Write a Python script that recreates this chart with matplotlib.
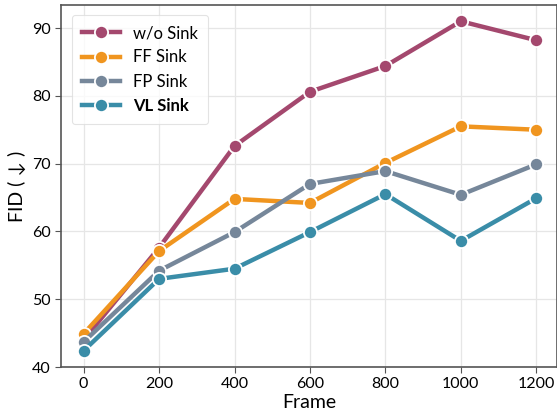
import matplotlib
matplotlib.use("Agg")
import matplotlib.pyplot as plt

plt.rcParams['font.family'] = ['Lato', 'DejaVu Sans']

frames = [0, 200, 400, 600, 800, 1000, 1200]
wo_sink = [44.0, 57.6, 72.6, 80.6, 84.4, 91.0, 88.2]
ff_sink = [44.9, 57.1, 64.8, 64.2, 70.1, 75.5, 75.0]
fp_sink = [43.7, 54.2, 59.9, 67.0, 68.9, 65.4, 69.9]
vl_sink = [42.4, 53.0, 54.5, 59.9, 65.5, 58.6, 64.9]
labels = ["w/o Sink", "FF Sink", "FP Sink", "VL Sink"]
colors = ["#A4486E", "#F0951F", "#76879A", "#3A8DA8"]

fig = plt.figure(figsize=(5.57, 4.11), dpi=100)
ax = fig.add_axes([61/557, 44/411, (557-61)/557, (367-5)/411])

for ys, lab, c in zip([wo_sink, ff_sink, fp_sink, vl_sink], labels, colors):
    ax.plot(frames, ys, color=c, lw=3.2, marker='o', ms=9.5,
            markeredgecolor='white', markeredgewidth=1.3, label=lab)

ax.set_xlim(-60, 1255)
ax.set_ylim(40, 93.4)
ax.set_xticks(frames)
ax.set_yticks([40, 50, 60, 70, 80, 90])
ax.grid(True, color='#e6e6e6', lw=0.9)
ax.set_axisbelow(True)
for s in ax.spines.values():
    s.set_color('#555555')
    s.set_linewidth(1.2)
ax.tick_params(labelsize=11.5, length=4, color='#555555')
ax.set_xlabel("Frame", fontsize=14, labelpad=2)
ax.set_ylabel("FID ( ↓ )", fontsize=14)

leg = ax.legend(loc='upper left', fontsize=12, frameon=True,
                handlelength=2.3, borderpad=0.6, labelspacing=0.5,
                bbox_to_anchor=(0.005, 0.995))
leg.get_frame().set_edgecolor('#dddddd')
leg.get_frame().set_linewidth(0.8)
leg.get_texts()[3].set_fontweight('bold')

fig.savefig("out.png", dpi=100)
